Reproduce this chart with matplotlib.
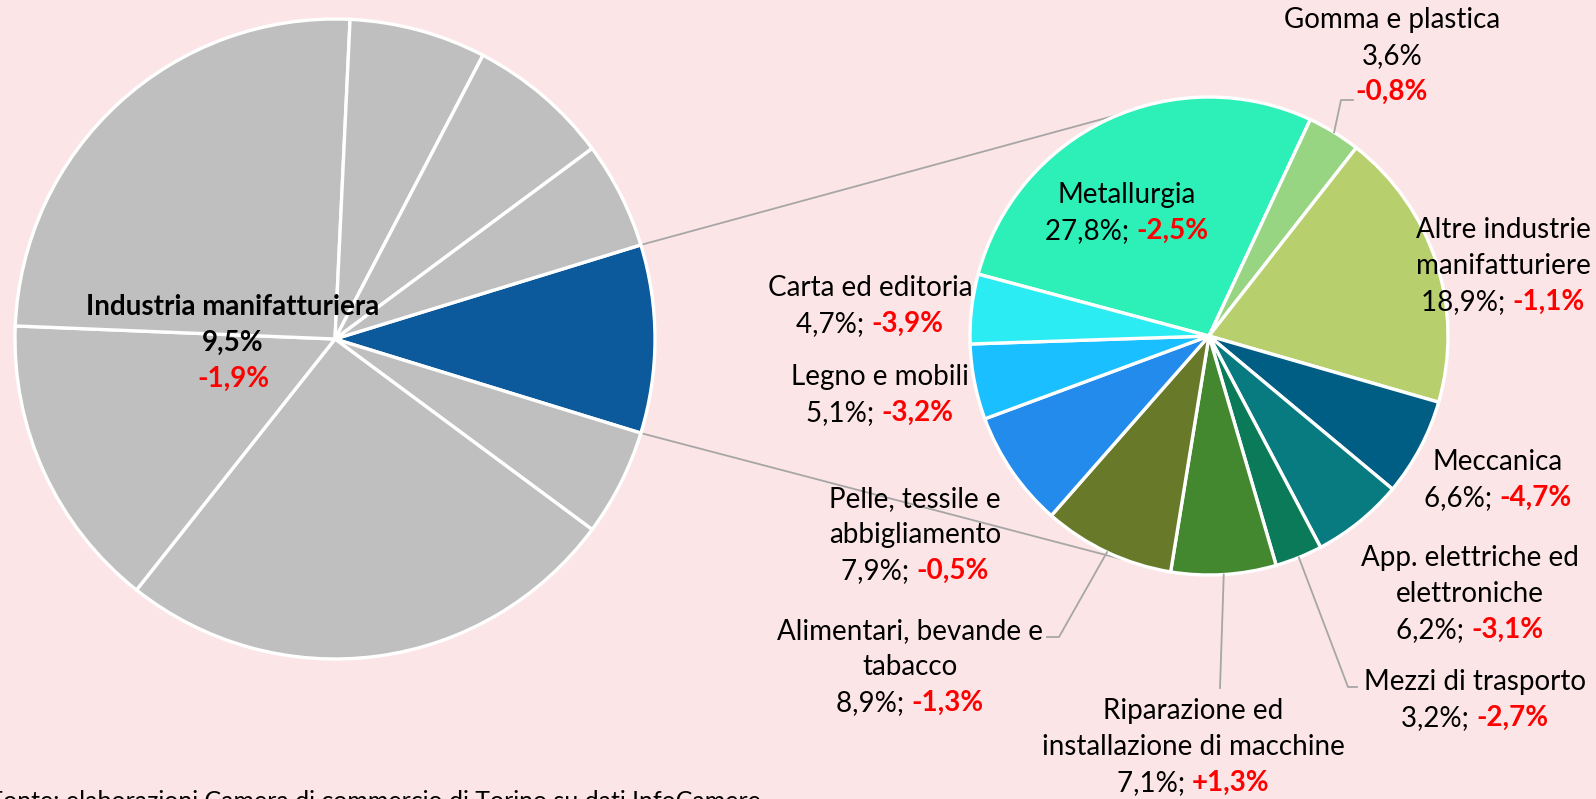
import numpy as np
import matplotlib
matplotlib.use("Agg")
import matplotlib.pyplot as plt

plt.rcParams['font.family'] = ['Lato', 'DejaVu Sans']

# ---- data ----
main_name = "Industria manifatturiera"
main_share = 9.5
main_change = -1.9
other_shares = [5.4, 25.5, 15.0, 25.1, 6.9, 7.2, 5.4]   # other sectors (grey)

sub_names = ["Metallurgia", "Gomma e plastica", "Altre industrie\nmanifatturiere",
             "Meccanica", "App. elettriche ed\nelettroniche", "Mezzi di trasporto",
             "Riparazione ed\ninstallazione di macchine", "Alimentari, bevande e\ntabacco",
             "Pelle, tessile e\nabbigliamento", "Legno e mobili", "Carta ed editoria"]
sub_share = [27.8, 3.6, 18.9, 6.6, 6.2, 3.2, 7.1, 8.9, 7.9, 5.1, 4.7]
sub_change = [-2.5, -0.8, -1.1, -4.7, -3.1, -2.7, 1.3, -1.3, -0.5, -3.2, -3.9]

sub_colors = ["#2CF0B8", "#98D583", "#B8CF6E", "#005E85", "#087B80", "#0A7A59",
              "#43872F", "#687A2A", "#238BEC", "#19BFFE", "#2BECF3"]

bg = "#FCE5E7"
W, H = 1596, 799
fig = plt.figure(figsize=(W / 100, H / 100), dpi=100, facecolor=bg)
ax = fig.add_axes([0, 0, 1, 1])
ax.set_facecolor(bg)


def fmt(v, sign=False):
    s = f"{v:+.1f}%" if sign else f"{v:.1f}%"
    return s.replace(".", ",")


def py(y):
    # pixel row (from top) -> data y
    return H - y


# ---- pies ----
c1, r1 = (335, py(339)), 320
c2, r2 = (1209, py(336)), 239
wp = dict(edgecolor="white", linewidth=2.4)

start1 = main_share * 3.6 / 2
ax.pie([main_share] + other_shares, colors=["#0C599B"] + ["#BFBFBF"] * len(other_shares),
       center=c1, radius=r1, startangle=start1, counterclock=False, wedgeprops=wp)

start2 = 165.0
wedges, _ = ax.pie(sub_share, colors=sub_colors, center=c2, radius=r2,
                   startangle=start2, counterclock=False, wedgeprops=wp)

ax.set_xlim(0, W)
ax.set_ylim(0, H)
ax.set_aspect("equal")
ax.axis("off")

# connector lines (behind the pies)
lc = "#A6A6A6"
for a1, a2 in [(start1, 112), (-start1, 250)]:
    p = (c1[0] + r1 * np.cos(np.radians(a1)), c1[1] + r1 * np.sin(np.radians(a1)))
    q = (c2[0] + r2 * np.cos(np.radians(a2)), c2[1] + r2 * np.sin(np.radians(a2)))
    ax.plot([p[0], q[0]], [p[1], q[1]], color=lc, lw=1.3, zorder=0)

fig.canvas.draw()
rend = fig.canvas.get_renderer()
FS = 20
LS = 36


def mixed(x, y, black, red, size=FS, bold_black=False):
    """centered line: black text followed by bold red text"""
    t1 = ax.text(0, y, black, fontsize=size, color="black", va="center", ha="left",
                 fontweight="bold" if bold_black else "normal", zorder=5)
    t2 = ax.text(0, y, red, fontsize=size, color="#FF0000", va="center", ha="left",
                 fontweight="bold", zorder=5)
    w1 = t1.get_window_extent(rend).width if black else 0
    w2 = t2.get_window_extent(rend).width
    x0 = x - (w1 + w2) / 2
    t1.set_x(x0)
    t2.set_x(x0 + w1)


# label layout: first line centre (pixel coords from top)
label_pos = [(1127, 195), (1392, 20), (1503, 230), (1498, 462), (1470, 558),
             (1475, 682), (1193, 711), (910, 631), (915, 499), (880, 377), (870, 288)]

for i, name in enumerate(sub_names):
    x, y = label_pos[i]
    lines = name.split("\n")
    for k, ln in enumerate(lines):
        ax.text(x, py(y + k * LS), ln, fontsize=FS, ha="center", va="center", zorder=5)
    yy = y + len(lines) * LS
    if i == 1:
        ax.text(x, py(yy), fmt(sub_share[i]), fontsize=FS, ha="center", va="center", zorder=5)
        mixed(x, py(yy + LS), "", fmt(sub_change[i], True))
    else:
        mixed(x, py(yy), fmt(sub_share[i]) + "; ", fmt(sub_change[i], True))

# leader lines: slice middle on the edge -> label
mids = {}
for i, w in enumerate(wedges):
    mids[i] = np.radians((w.theta1 + w.theta2) / 2)


def edge(i):
    return c2[0] + r2 * np.cos(mids[i]), c2[1] + r2 * np.sin(mids[i])


leaders = {1: [(1353, 100), (1341, 100)],
           7: [(1047, 637), (1059, 637)],
           6: [(1220, 688)],
           5: [(1357, 687), (1348, 687)]}
for i, pts in leaders.items():
    xs = [p[0] for p in pts] + [edge(i)[0]]
    ys = [py(p[1]) for p in pts] + [edge(i)[1]]
    ax.plot(xs, ys, color=lc, lw=1.3, zorder=1)

# main pie label
mx, my = 233, 307
ax.text(mx, py(my), main_name, fontsize=FS, fontweight="bold", ha="center", va="center", zorder=5)
ax.text(mx, py(my + LS), fmt(main_share), fontsize=FS, fontweight="bold", ha="center",
        va="center", zorder=5)
mixed(mx, py(my + 2 * LS), "", fmt(main_change, True))

# source note (cut by the bottom edge, like the original)
ax.text(-11, 9, "Fonte: elaborazioni Camera di commercio di Torino su dati InfoCamere",
        fontsize=18, ha="left", va="top", zorder=5)

fig.savefig("out.png", dpi=100, facecolor=bg)
